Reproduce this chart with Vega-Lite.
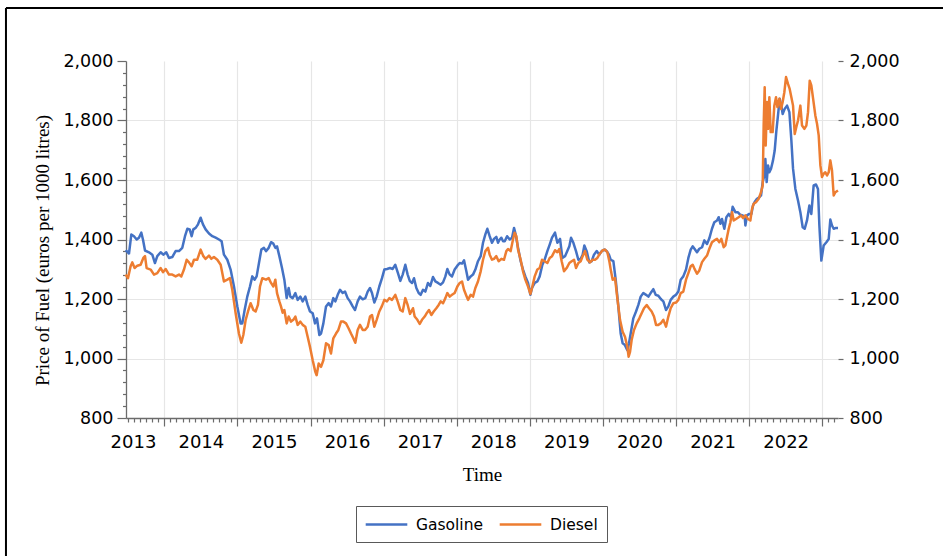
{
"$schema": "https://vega.github.io/schema/vega-lite/v6.json",
"width": 712, "height": 357,
"autosize": {"type": "none"},
"padding": {"left": 126, "top": 61, "right": 105, "bottom": 138},
"background": "white",
"config": {"view": {"stroke": null}, "axis": {"labelColor": "#000000", "titleColor": "#000000", "domainColor": "#6b6b6b", "tickColor": "#6b6b6b", "domainWidth": 1.3, "tickWidth": 1.2}},
"datasets": {
"prices": [
{"year":2013.471,"fuel":"Gasoline","price":1364},{"year":2013.517,"fuel":"Gasoline","price":1353},{"year":2013.549,"fuel":"Gasoline","price":1417},{"year":2013.585,"fuel":"Gasoline","price":1411},{"year":2013.622,"fuel":"Gasoline","price":1400},{"year":2013.653,"fuel":"Gasoline","price":1406},{"year":2013.685,"fuel":"Gasoline","price":1423},{"year":2013.708,"fuel":"Gasoline","price":1400},{"year":2013.736,"fuel":"Gasoline","price":1363},{"year":2013.790,"fuel":"Gasoline","price":1357},{"year":2013.836,"fuel":"Gasoline","price":1349},{"year":2013.872,"fuel":"Gasoline","price":1321},{"year":2013.904,"fuel":"Gasoline","price":1344},{"year":2013.950,"fuel":"Gasoline","price":1357},{"year":2013.986,"fuel":"Gasoline","price":1349},{"year":2014.027,"fuel":"Gasoline","price":1357},{"year":2014.064,"fuel":"Gasoline","price":1338},{"year":2014.109,"fuel":"Gasoline","price":1341},{"year":2014.155,"fuel":"Gasoline","price":1361},{"year":2014.201,"fuel":"Gasoline","price":1361},{"year":2014.246,"fuel":"Gasoline","price":1372},{"year":2014.283,"fuel":"Gasoline","price":1411},{"year":2014.315,"fuel":"Gasoline","price":1436},{"year":2014.347,"fuel":"Gasoline","price":1434},{"year":2014.374,"fuel":"Gasoline","price":1411},{"year":2014.397,"fuel":"Gasoline","price":1434},{"year":2014.429,"fuel":"Gasoline","price":1439},{"year":2014.461,"fuel":"Gasoline","price":1451},{"year":2014.497,"fuel":"Gasoline","price":1473},{"year":2014.529,"fuel":"Gasoline","price":1451},{"year":2014.565,"fuel":"Gasoline","price":1434},{"year":2014.611,"fuel":"Gasoline","price":1420},{"year":2014.657,"fuel":"Gasoline","price":1411},{"year":2014.702,"fuel":"Gasoline","price":1406},{"year":2014.748,"fuel":"Gasoline","price":1400},{"year":2014.784,"fuel":"Gasoline","price":1394},{"year":2014.816,"fuel":"Gasoline","price":1349},{"year":2014.862,"fuel":"Gasoline","price":1332},{"year":2014.907,"fuel":"Gasoline","price":1299},{"year":2014.953,"fuel":"Gasoline","price":1242},{"year":2014.999,"fuel":"Gasoline","price":1175},{"year":2015.044,"fuel":"Gasoline","price":1118},{"year":2015.067,"fuel":"Gasoline","price":1118},{"year":2015.099,"fuel":"Gasoline","price":1163},{"year":2015.135,"fuel":"Gasoline","price":1208},{"year":2015.172,"fuel":"Gasoline","price":1242},{"year":2015.204,"fuel":"Gasoline","price":1276},{"year":2015.236,"fuel":"Gasoline","price":1265},{"year":2015.263,"fuel":"Gasoline","price":1276},{"year":2015.295,"fuel":"Gasoline","price":1321},{"year":2015.327,"fuel":"Gasoline","price":1366},{"year":2015.363,"fuel":"Gasoline","price":1372},
{"year":2015.391,"fuel":"Gasoline","price":1361},{"year":2015.428,"fuel":"Gasoline","price":1372},{"year":2015.460,"fuel":"Gasoline","price":1391},{"year":2015.492,"fuel":"Gasoline","price":1386},{"year":2015.519,"fuel":"Gasoline","price":1372},{"year":2015.542,"fuel":"Gasoline","price":1377},{"year":2015.574,"fuel":"Gasoline","price":1344},{"year":2015.610,"fuel":"Gasoline","price":1304},{"year":2015.642,"fuel":"Gasoline","price":1265},{"year":2015.674,"fuel":"Gasoline","price":1203},{"year":2015.701,"fuel":"Gasoline","price":1237},{"year":2015.724,"fuel":"Gasoline","price":1208},{"year":2015.756,"fuel":"Gasoline","price":1203},{"year":2015.793,"fuel":"Gasoline","price":1220},{"year":2015.824,"fuel":"Gasoline","price":1197},{"year":2015.861,"fuel":"Gasoline","price":1208},{"year":2015.893,"fuel":"Gasoline","price":1192},{"year":2015.929,"fuel":"Gasoline","price":1208},{"year":2015.961,"fuel":"Gasoline","price":1180},{"year":2015.993,"fuel":"Gasoline","price":1158},{"year":2016.030,"fuel":"Gasoline","price":1152},{"year":2016.062,"fuel":"Gasoline","price":1118},{"year":2016.089,"fuel":"Gasoline","price":1135},{"year":2016.121,"fuel":"Gasoline","price":1079},{"year":2016.144,"fuel":"Gasoline","price":1084},{"year":2016.176,"fuel":"Gasoline","price":1118},{"year":2016.212,"fuel":"Gasoline","price":1175},{"year":2016.249,"fuel":"Gasoline","price":1186},{"year":2016.280,"fuel":"Gasoline","price":1175},{"year":2016.312,"fuel":"Gasoline","price":1203},{"year":2016.340,"fuel":"Gasoline","price":1192},{"year":2016.372,"fuel":"Gasoline","price":1214},{"year":2016.404,"fuel":"Gasoline","price":1231},{"year":2016.440,"fuel":"Gasoline","price":1220},{"year":2016.472,"fuel":"Gasoline","price":1225},{"year":2016.508,"fuel":"Gasoline","price":1203},{"year":2016.540,"fuel":"Gasoline","price":1192},{"year":2016.577,"fuel":"Gasoline","price":1175},{"year":2016.609,"fuel":"Gasoline","price":1163},{"year":2016.645,"fuel":"Gasoline","price":1192},{"year":2016.677,"fuel":"Gasoline","price":1208},{"year":2016.714,"fuel":"Gasoline","price":1199},{"year":2016.750,"fuel":"Gasoline","price":1203},{"year":2016.782,"fuel":"Gasoline","price":1225},{"year":2016.814,"fuel":"Gasoline","price":1237},{"year":2016.841,"fuel":"Gasoline","price":1220},{"year":2016.873,"fuel":"Gasoline","price":1188},{"year":2016.905,"fuel":"Gasoline","price":1208},{"year":2016.941,"fuel":"Gasoline","price":1242},{"year":2016.978,"fuel":"Gasoline","price":1270},{"year":2017.010,"fuel":"Gasoline","price":1299},{"year":2017.046,"fuel":"Gasoline","price":1301},{"year":2017.087,"fuel":"Gasoline","price":1304},{"year":2017.124,"fuel":"Gasoline","price":1301},{"year":2017.160,"fuel":"Gasoline","price":1315},{"year":2017.192,"fuel":"Gasoline","price":1290},{"year":2017.229,"fuel":"Gasoline","price":1261},{"year":2017.261,"fuel":"Gasoline","price":1282},{"year":2017.297,"fuel":"Gasoline","price":1315},{"year":2017.329,"fuel":"Gasoline","price":1282},{"year":2017.359,"fuel":"Gasoline","price":1260},
{"year":2017.389,"fuel":"Gasoline","price":1254},{"year":2017.416,"fuel":"Gasoline","price":1270},{"year":2017.448,"fuel":"Gasoline","price":1237},{"year":2017.480,"fuel":"Gasoline","price":1220},{"year":2017.507,"fuel":"Gasoline","price":1214},{"year":2017.539,"fuel":"Gasoline","price":1231},{"year":2017.571,"fuel":"Gasoline","price":1225},{"year":2017.607,"fuel":"Gasoline","price":1254},{"year":2017.639,"fuel":"Gasoline","price":1244},{"year":2017.676,"fuel":"Gasoline","price":1274},{"year":2017.708,"fuel":"Gasoline","price":1259},{"year":2017.744,"fuel":"Gasoline","price":1254},{"year":2017.781,"fuel":"Gasoline","price":1248},{"year":2017.813,"fuel":"Gasoline","price":1256},{"year":2017.845,"fuel":"Gasoline","price":1276},{"year":2017.872,"fuel":"Gasoline","price":1301},{"year":2017.904,"fuel":"Gasoline","price":1282},{"year":2017.936,"fuel":"Gasoline","price":1276},{"year":2017.972,"fuel":"Gasoline","price":1299},{"year":2018.009,"fuel":"Gasoline","price":1312},{"year":2018.041,"fuel":"Gasoline","price":1321},{"year":2018.073,"fuel":"Gasoline","price":1319},{"year":2018.100,"fuel":"Gasoline","price":1330},{"year":2018.132,"fuel":"Gasoline","price":1293},{"year":2018.155,"fuel":"Gasoline","price":1265},{"year":2018.191,"fuel":"Gasoline","price":1276},{"year":2018.223,"fuel":"Gasoline","price":1282},{"year":2018.255,"fuel":"Gasoline","price":1299},{"year":2018.291,"fuel":"Gasoline","price":1327},{"year":2018.328,"fuel":"Gasoline","price":1344},{"year":2018.360,"fuel":"Gasoline","price":1389},{"year":2018.392,"fuel":"Gasoline","price":1417},{"year":2018.419,"fuel":"Gasoline","price":1436},{"year":2018.451,"fuel":"Gasoline","price":1411},{"year":2018.483,"fuel":"Gasoline","price":1389},{"year":2018.510,"fuel":"Gasoline","price":1402},{"year":2018.542,"fuel":"Gasoline","price":1409},{"year":2018.565,"fuel":"Gasoline","price":1389},{"year":2018.588,"fuel":"Gasoline","price":1400},{"year":2018.611,"fuel":"Gasoline","price":1406},{"year":2018.634,"fuel":"Gasoline","price":1394},{"year":2018.657,"fuel":"Gasoline","price":1394},{"year":2018.689,"fuel":"Gasoline","price":1411},{"year":2018.725,"fuel":"Gasoline","price":1400},{"year":2018.757,"fuel":"Gasoline","price":1406},{"year":2018.784,"fuel":"Gasoline","price":1439},{"year":2018.807,"fuel":"Gasoline","price":1417},{"year":2018.839,"fuel":"Gasoline","price":1372},{"year":2018.875,"fuel":"Gasoline","price":1327},{"year":2018.907,"fuel":"Gasoline","price":1299},{"year":2018.939,"fuel":"Gasoline","price":1276},{"year":2018.976,"fuel":"Gasoline","price":1254},{"year":2019.008,"fuel":"Gasoline","price":1214},{"year":2019.030,"fuel":"Gasoline","price":1237},{"year":2019.067,"fuel":"Gasoline","price":1254},{"year":2019.103,"fuel":"Gasoline","price":1259},{"year":2019.135,"fuel":"Gasoline","price":1276},{"year":2019.172,"fuel":"Gasoline","price":1315},{"year":2019.203,"fuel":"Gasoline","price":1332},{"year":2019.240,"fuel":"Gasoline","price":1361},{"year":2019.272,"fuel":"Gasoline","price":1383},{"year":2019.304,"fuel":"Gasoline","price":1406},
{"year":2019.345,"fuel":"Gasoline","price":1423},{"year":2019.377,"fuel":"Gasoline","price":1389},{"year":2019.414,"fuel":"Gasoline","price":1402},{"year":2019.445,"fuel":"Gasoline","price":1338},{"year":2019.482,"fuel":"Gasoline","price":1344},{"year":2019.513,"fuel":"Gasoline","price":1361},{"year":2019.541,"fuel":"Gasoline","price":1377},{"year":2019.564,"fuel":"Gasoline","price":1406},{"year":2019.596,"fuel":"Gasoline","price":1389},{"year":2019.632,"fuel":"Gasoline","price":1361},{"year":2019.664,"fuel":"Gasoline","price":1332},{"year":2019.696,"fuel":"Gasoline","price":1335},{"year":2019.723,"fuel":"Gasoline","price":1349},{"year":2019.746,"fuel":"Gasoline","price":1380},{"year":2019.778,"fuel":"Gasoline","price":1361},{"year":2019.814,"fuel":"Gasoline","price":1323},{"year":2019.846,"fuel":"Gasoline","price":1327},{"year":2019.878,"fuel":"Gasoline","price":1349},{"year":2019.915,"fuel":"Gasoline","price":1361},{"year":2019.951,"fuel":"Gasoline","price":1349},{"year":2019.983,"fuel":"Gasoline","price":1361},{"year":2020.020,"fuel":"Gasoline","price":1366},{"year":2020.052,"fuel":"Gasoline","price":1361},{"year":2020.083,"fuel":"Gasoline","price":1349},{"year":2020.106,"fuel":"Gasoline","price":1332},{"year":2020.143,"fuel":"Gasoline","price":1327},{"year":2020.175,"fuel":"Gasoline","price":1265},{"year":2020.211,"fuel":"Gasoline","price":1175},{"year":2020.243,"fuel":"Gasoline","price":1084},{"year":2020.270,"fuel":"Gasoline","price":1051},{"year":2020.302,"fuel":"Gasoline","price":1045},{"year":2020.334,"fuel":"Gasoline","price":1028},{"year":2020.357,"fuel":"Gasoline","price":1051},{"year":2020.384,"fuel":"Gasoline","price":1090},{"year":2020.416,"fuel":"Gasoline","price":1135},{"year":2020.453,"fuel":"Gasoline","price":1158},{"year":2020.485,"fuel":"Gasoline","price":1180},{"year":2020.517,"fuel":"Gasoline","price":1208},{"year":2020.553,"fuel":"Gasoline","price":1220},{"year":2020.590,"fuel":"Gasoline","price":1214},{"year":2020.622,"fuel":"Gasoline","price":1208},{"year":2020.653,"fuel":"Gasoline","price":1220},{"year":2020.690,"fuel":"Gasoline","price":1233},{"year":2020.722,"fuel":"Gasoline","price":1214},{"year":2020.758,"fuel":"Gasoline","price":1211},{"year":2020.795,"fuel":"Gasoline","price":1199},{"year":2020.827,"fuel":"Gasoline","price":1192},{"year":2020.863,"fuel":"Gasoline","price":1163},{"year":2020.895,"fuel":"Gasoline","price":1175},{"year":2020.927,"fuel":"Gasoline","price":1197},{"year":2020.964,"fuel":"Gasoline","price":1208},{"year":2021.000,"fuel":"Gasoline","price":1214},{"year":2021.032,"fuel":"Gasoline","price":1225},{"year":2021.064,"fuel":"Gasoline","price":1265},{"year":2021.100,"fuel":"Gasoline","price":1276},{"year":2021.137,"fuel":"Gasoline","price":1299},{"year":2021.169,"fuel":"Gasoline","price":1338},{"year":2021.201,"fuel":"Gasoline","price":1366},{"year":2021.228,"fuel":"Gasoline","price":1377},{"year":2021.250,"fuel":"Gasoline","price":1370},
{"year":2021.287,"fuel":"Gasoline","price":1357},{"year":2021.319,"fuel":"Gasoline","price":1369},{"year":2021.356,"fuel":"Gasoline","price":1374},{"year":2021.388,"fuel":"Gasoline","price":1397},{"year":2021.424,"fuel":"Gasoline","price":1385},{"year":2021.456,"fuel":"Gasoline","price":1404},{"year":2021.492,"fuel":"Gasoline","price":1436},{"year":2021.524,"fuel":"Gasoline","price":1458},{"year":2021.561,"fuel":"Gasoline","price":1464},{"year":2021.584,"fuel":"Gasoline","price":1475},{"year":2021.607,"fuel":"Gasoline","price":1453},{"year":2021.629,"fuel":"Gasoline","price":1469},{"year":2021.661,"fuel":"Gasoline","price":1436},{"year":2021.689,"fuel":"Gasoline","price":1475},{"year":2021.721,"fuel":"Gasoline","price":1486},{"year":2021.753,"fuel":"Gasoline","price":1475},{"year":2021.775,"fuel":"Gasoline","price":1510},{"year":2021.812,"fuel":"Gasoline","price":1492},{"year":2021.844,"fuel":"Gasoline","price":1492},{"year":2021.880,"fuel":"Gasoline","price":1483},{"year":2021.912,"fuel":"Gasoline","price":1481},{"year":2021.940,"fuel":"Gasoline","price":1475},{"year":2021.949,"fuel":"Gasoline","price":1447},{"year":2021.971,"fuel":"Gasoline","price":1481},{"year":2022.003,"fuel":"Gasoline","price":1486},{"year":2022.031,"fuel":"Gasoline","price":1486},{"year":2022.053,"fuel":"Gasoline","price":1514},{"year":2022.076,"fuel":"Gasoline","price":1526},{"year":2022.108,"fuel":"Gasoline","price":1537},{"year":2022.140,"fuel":"Gasoline","price":1542},{"year":2022.163,"fuel":"Gasoline","price":1548},{"year":2022.186,"fuel":"Gasoline","price":1593},{"year":2022.208,"fuel":"Gasoline","price":1615},{"year":2022.222,"fuel":"Gasoline","price":1671},{"year":2022.240,"fuel":"Gasoline","price":1593},{"year":2022.259,"fuel":"Gasoline","price":1649},{"year":2022.277,"fuel":"Gasoline","price":1626},{"year":2022.300,"fuel":"Gasoline","price":1638},{"year":2022.327,"fuel":"Gasoline","price":1666},{"year":2022.350,"fuel":"Gasoline","price":1699},{"year":2022.373,"fuel":"Gasoline","price":1766},{"year":2022.395,"fuel":"Gasoline","price":1817},{"year":2022.418,"fuel":"Gasoline","price":1873},{"year":2022.441,"fuel":"Gasoline","price":1850},{"year":2022.459,"fuel":"Gasoline","price":1822},{"year":2022.487,"fuel":"Gasoline","price":1839},{"year":2022.519,"fuel":"Gasoline","price":1850},{"year":2022.551,"fuel":"Gasoline","price":1828},{"year":2022.578,"fuel":"Gasoline","price":1733},{"year":2022.601,"fuel":"Gasoline","price":1638},{"year":2022.633,"fuel":"Gasoline","price":1570},{"year":2022.669,"fuel":"Gasoline","price":1531},{"year":2022.701,"fuel":"Gasoline","price":1492},{"year":2022.733,"fuel":"Gasoline","price":1441},{"year":2022.760,"fuel":"Gasoline","price":1436},{"year":2022.792,"fuel":"Gasoline","price":1464},{"year":2022.824,"fuel":"Gasoline","price":1514},{"year":2022.851,"fuel":"Gasoline","price":1486},{"year":2022.883,"fuel":"Gasoline","price":1582},{"year":2022.915,"fuel":"Gasoline","price":1585},{"year":2022.942,"fuel":"Gasoline","price":1570},{"year":2022.961,"fuel":"Gasoline","price":1447},{"year":2022.988,"fuel":"Gasoline","price":1329},{"year":2023.020,"fuel":"Gasoline","price":1380},{"year":2023.057,"fuel":"Gasoline","price":1391},{"year":2023.089,"fuel":"Gasoline","price":1402},{"year":2023.111,"fuel":"Gasoline","price":1467},{"year":2023.134,"fuel":"Gasoline","price":1447},{"year":2023.157,"fuel":"Gasoline","price":1436},{"year":2023.189,"fuel":"Gasoline","price":1439},{"year":2023.216,"fuel":"Gasoline","price":1439},
{"year":2013.471,"fuel":"Diesel","price":1282},{"year":2013.503,"fuel":"Diesel","price":1270},{"year":2013.539,"fuel":"Diesel","price":1310},{"year":2013.562,"fuel":"Diesel","price":1323},{"year":2013.594,"fuel":"Diesel","price":1304},{"year":2013.631,"fuel":"Diesel","price":1312},{"year":2013.676,"fuel":"Diesel","price":1315},{"year":2013.713,"fuel":"Diesel","price":1338},{"year":2013.736,"fuel":"Diesel","price":1344},{"year":2013.758,"fuel":"Diesel","price":1304},{"year":2013.813,"fuel":"Diesel","price":1299},{"year":2013.859,"fuel":"Diesel","price":1282},{"year":2013.904,"fuel":"Diesel","price":1287},{"year":2013.950,"fuel":"Diesel","price":1304},{"year":2013.982,"fuel":"Diesel","price":1290},{"year":2014.018,"fuel":"Diesel","price":1301},{"year":2014.064,"fuel":"Diesel","price":1282},{"year":2014.109,"fuel":"Diesel","price":1282},{"year":2014.155,"fuel":"Diesel","price":1276},{"year":2014.201,"fuel":"Diesel","price":1282},{"year":2014.233,"fuel":"Diesel","price":1276},{"year":2014.269,"fuel":"Diesel","price":1299},{"year":2014.306,"fuel":"Diesel","price":1332},{"year":2014.337,"fuel":"Diesel","price":1323},{"year":2014.374,"fuel":"Diesel","price":1310},{"year":2014.406,"fuel":"Diesel","price":1332},{"year":2014.451,"fuel":"Diesel","price":1332},{"year":2014.497,"fuel":"Diesel","price":1366},{"year":2014.534,"fuel":"Diesel","price":1344},{"year":2014.565,"fuel":"Diesel","price":1335},{"year":2014.611,"fuel":"Diesel","price":1346},{"year":2014.643,"fuel":"Diesel","price":1335},{"year":2014.679,"fuel":"Diesel","price":1341},{"year":2014.725,"fuel":"Diesel","price":1332},{"year":2014.771,"fuel":"Diesel","price":1315},{"year":2014.816,"fuel":"Diesel","price":1259},{"year":2014.862,"fuel":"Diesel","price":1265},{"year":2014.898,"fuel":"Diesel","price":1270},{"year":2014.930,"fuel":"Diesel","price":1231},{"year":2014.976,"fuel":"Diesel","price":1152},{"year":2015.021,"fuel":"Diesel","price":1084},{"year":2015.053,"fuel":"Diesel","price":1053},{"year":2015.081,"fuel":"Diesel","price":1079},{"year":2015.113,"fuel":"Diesel","price":1130},{"year":2015.145,"fuel":"Diesel","price":1158},{"year":2015.181,"fuel":"Diesel","price":1186},{"year":2015.218,"fuel":"Diesel","price":1163},{"year":2015.249,"fuel":"Diesel","price":1158},{"year":2015.281,"fuel":"Diesel","price":1180},{"year":2015.309,"fuel":"Diesel","price":1242},{"year":2015.341,"fuel":"Diesel","price":1270},
{"year":2015.391,"fuel":"Diesel","price":1265},{"year":2015.428,"fuel":"Diesel","price":1270},{"year":2015.460,"fuel":"Diesel","price":1254},{"year":2015.492,"fuel":"Diesel","price":1242},{"year":2015.519,"fuel":"Diesel","price":1265},{"year":2015.542,"fuel":"Diesel","price":1220},{"year":2015.574,"fuel":"Diesel","price":1192},{"year":2015.596,"fuel":"Diesel","price":1175},{"year":2015.619,"fuel":"Diesel","price":1154},{"year":2015.642,"fuel":"Diesel","price":1163},{"year":2015.674,"fuel":"Diesel","price":1118},{"year":2015.701,"fuel":"Diesel","price":1141},{"year":2015.733,"fuel":"Diesel","price":1124},{"year":2015.765,"fuel":"Diesel","price":1130},{"year":2015.793,"fuel":"Diesel","price":1141},{"year":2015.824,"fuel":"Diesel","price":1113},{"year":2015.861,"fuel":"Diesel","price":1124},{"year":2015.893,"fuel":"Diesel","price":1113},{"year":2015.929,"fuel":"Diesel","price":1107},{"year":2015.961,"fuel":"Diesel","price":1073},{"year":2015.993,"fuel":"Diesel","price":1039},{"year":2016.030,"fuel":"Diesel","price":994},{"year":2016.066,"fuel":"Diesel","price":955},{"year":2016.084,"fuel":"Diesel","price":944},{"year":2016.112,"fuel":"Diesel","price":983},{"year":2016.144,"fuel":"Diesel","price":972},{"year":2016.176,"fuel":"Diesel","price":994},{"year":2016.212,"fuel":"Diesel","price":1051},{"year":2016.249,"fuel":"Diesel","price":1045},{"year":2016.280,"fuel":"Diesel","price":1017},{"year":2016.312,"fuel":"Diesel","price":1068},{"year":2016.349,"fuel":"Diesel","price":1084},{"year":2016.381,"fuel":"Diesel","price":1096},{"year":2016.417,"fuel":"Diesel","price":1124},{"year":2016.449,"fuel":"Diesel","price":1124},{"year":2016.486,"fuel":"Diesel","price":1118},{"year":2016.522,"fuel":"Diesel","price":1101},{"year":2016.554,"fuel":"Diesel","price":1084},{"year":2016.586,"fuel":"Diesel","price":1068},{"year":2016.613,"fuel":"Diesel","price":1053},{"year":2016.645,"fuel":"Diesel","price":1096},{"year":2016.677,"fuel":"Diesel","price":1113},{"year":2016.714,"fuel":"Diesel","price":1096},{"year":2016.746,"fuel":"Diesel","price":1096},{"year":2016.782,"fuel":"Diesel","price":1107},{"year":2016.814,"fuel":"Diesel","price":1141},{"year":2016.841,"fuel":"Diesel","price":1146},{"year":2016.873,"fuel":"Diesel","price":1107},{"year":2016.905,"fuel":"Diesel","price":1130},{"year":2016.941,"fuel":"Diesel","price":1158},{"year":2016.978,"fuel":"Diesel","price":1177},{"year":2017.010,"fuel":"Diesel","price":1197},{"year":2017.046,"fuel":"Diesel","price":1192},{"year":2017.078,"fuel":"Diesel","price":1203},{"year":2017.115,"fuel":"Diesel","price":1197},{"year":2017.160,"fuel":"Diesel","price":1214},{"year":2017.192,"fuel":"Diesel","price":1192},{"year":2017.229,"fuel":"Diesel","price":1163},{"year":2017.261,"fuel":"Diesel","price":1158},{"year":2017.297,"fuel":"Diesel","price":1203},{"year":2017.329,"fuel":"Diesel","price":1180},{"year":2017.361,"fuel":"Diesel","price":1150},
{"year":2017.402,"fuel":"Diesel","price":1169},{"year":2017.425,"fuel":"Diesel","price":1141},{"year":2017.462,"fuel":"Diesel","price":1130},{"year":2017.494,"fuel":"Diesel","price":1116},{"year":2017.525,"fuel":"Diesel","price":1130},{"year":2017.562,"fuel":"Diesel","price":1141},{"year":2017.594,"fuel":"Diesel","price":1154},{"year":2017.621,"fuel":"Diesel","price":1163},{"year":2017.653,"fuel":"Diesel","price":1146},{"year":2017.685,"fuel":"Diesel","price":1158},{"year":2017.721,"fuel":"Diesel","price":1169},{"year":2017.753,"fuel":"Diesel","price":1180},{"year":2017.781,"fuel":"Diesel","price":1192},{"year":2017.813,"fuel":"Diesel","price":1186},{"year":2017.845,"fuel":"Diesel","price":1203},{"year":2017.872,"fuel":"Diesel","price":1220},{"year":2017.904,"fuel":"Diesel","price":1208},{"year":2017.936,"fuel":"Diesel","price":1214},{"year":2017.972,"fuel":"Diesel","price":1220},{"year":2018.009,"fuel":"Diesel","price":1242},{"year":2018.041,"fuel":"Diesel","price":1254},{"year":2018.073,"fuel":"Diesel","price":1259},{"year":2018.100,"fuel":"Diesel","price":1231},{"year":2018.132,"fuel":"Diesel","price":1211},{"year":2018.155,"fuel":"Diesel","price":1197},{"year":2018.191,"fuel":"Diesel","price":1214},{"year":2018.223,"fuel":"Diesel","price":1208},{"year":2018.255,"fuel":"Diesel","price":1237},{"year":2018.291,"fuel":"Diesel","price":1259},{"year":2018.328,"fuel":"Diesel","price":1293},{"year":2018.360,"fuel":"Diesel","price":1332},{"year":2018.392,"fuel":"Diesel","price":1361},{"year":2018.428,"fuel":"Diesel","price":1372},{"year":2018.451,"fuel":"Diesel","price":1349},{"year":2018.483,"fuel":"Diesel","price":1332},{"year":2018.510,"fuel":"Diesel","price":1335},{"year":2018.542,"fuel":"Diesel","price":1344},{"year":2018.574,"fuel":"Diesel","price":1327},{"year":2018.611,"fuel":"Diesel","price":1335},{"year":2018.647,"fuel":"Diesel","price":1332},{"year":2018.679,"fuel":"Diesel","price":1361},{"year":2018.702,"fuel":"Diesel","price":1368},{"year":2018.738,"fuel":"Diesel","price":1361},{"year":2018.770,"fuel":"Diesel","price":1400},{"year":2018.793,"fuel":"Diesel","price":1423},{"year":2018.816,"fuel":"Diesel","price":1411},{"year":2018.839,"fuel":"Diesel","price":1366},{"year":2018.875,"fuel":"Diesel","price":1332},{"year":2018.907,"fuel":"Diesel","price":1293},{"year":2018.939,"fuel":"Diesel","price":1265},{"year":2018.976,"fuel":"Diesel","price":1242},{"year":2019.008,"fuel":"Diesel","price":1217},{"year":2019.030,"fuel":"Diesel","price":1237},{"year":2019.067,"fuel":"Diesel","price":1276},{"year":2019.103,"fuel":"Diesel","price":1299},{"year":2019.135,"fuel":"Diesel","price":1304},{"year":2019.167,"fuel":"Diesel","price":1332},{"year":2019.203,"fuel":"Diesel","price":1327},{"year":2019.240,"fuel":"Diesel","price":1321},{"year":2019.272,"fuel":"Diesel","price":1338},{"year":2019.304,"fuel":"Diesel","price":1344},
{"year":2019.345,"fuel":"Diesel","price":1364},{"year":2019.377,"fuel":"Diesel","price":1357},{"year":2019.404,"fuel":"Diesel","price":1368},{"year":2019.436,"fuel":"Diesel","price":1327},{"year":2019.468,"fuel":"Diesel","price":1293},{"year":2019.504,"fuel":"Diesel","price":1304},{"year":2019.541,"fuel":"Diesel","price":1321},{"year":2019.573,"fuel":"Diesel","price":1327},{"year":2019.605,"fuel":"Diesel","price":1332},{"year":2019.632,"fuel":"Diesel","price":1304},{"year":2019.664,"fuel":"Diesel","price":1321},{"year":2019.696,"fuel":"Diesel","price":1327},{"year":2019.723,"fuel":"Diesel","price":1344},{"year":2019.755,"fuel":"Diesel","price":1361},{"year":2019.787,"fuel":"Diesel","price":1332},{"year":2019.824,"fuel":"Diesel","price":1323},{"year":2019.860,"fuel":"Diesel","price":1332},{"year":2019.892,"fuel":"Diesel","price":1332},{"year":2019.924,"fuel":"Diesel","price":1338},{"year":2019.960,"fuel":"Diesel","price":1353},{"year":2019.997,"fuel":"Diesel","price":1364},{"year":2020.029,"fuel":"Diesel","price":1366},{"year":2020.061,"fuel":"Diesel","price":1357},{"year":2020.088,"fuel":"Diesel","price":1327},{"year":2020.111,"fuel":"Diesel","price":1293},{"year":2020.134,"fuel":"Diesel","price":1265},{"year":2020.166,"fuel":"Diesel","price":1270},{"year":2020.197,"fuel":"Diesel","price":1203},{"year":2020.234,"fuel":"Diesel","price":1130},{"year":2020.270,"fuel":"Diesel","price":1090},{"year":2020.302,"fuel":"Diesel","price":1073},{"year":2020.334,"fuel":"Diesel","price":1039},{"year":2020.352,"fuel":"Diesel","price":1006},{"year":2020.371,"fuel":"Diesel","price":1022},{"year":2020.393,"fuel":"Diesel","price":1062},{"year":2020.425,"fuel":"Diesel","price":1096},{"year":2020.462,"fuel":"Diesel","price":1118},{"year":2020.498,"fuel":"Diesel","price":1135},{"year":2020.530,"fuel":"Diesel","price":1152},{"year":2020.562,"fuel":"Diesel","price":1169},{"year":2020.599,"fuel":"Diesel","price":1180},{"year":2020.631,"fuel":"Diesel","price":1169},{"year":2020.667,"fuel":"Diesel","price":1158},{"year":2020.699,"fuel":"Diesel","price":1141},{"year":2020.727,"fuel":"Diesel","price":1113},{"year":2020.758,"fuel":"Diesel","price":1113},{"year":2020.790,"fuel":"Diesel","price":1118},{"year":2020.827,"fuel":"Diesel","price":1130},{"year":2020.863,"fuel":"Diesel","price":1107},{"year":2020.895,"fuel":"Diesel","price":1141},{"year":2020.927,"fuel":"Diesel","price":1169},{"year":2020.964,"fuel":"Diesel","price":1186},{"year":2021.000,"fuel":"Diesel","price":1188},{"year":2021.032,"fuel":"Diesel","price":1197},{"year":2021.064,"fuel":"Diesel","price":1220},{"year":2021.100,"fuel":"Diesel","price":1225},{"year":2021.137,"fuel":"Diesel","price":1265},{"year":2021.169,"fuel":"Diesel","price":1287},{"year":2021.201,"fuel":"Diesel","price":1310},{"year":2021.228,"fuel":"Diesel","price":1315},{"year":2021.250,"fuel":"Diesel","price":1303},
{"year":2021.287,"fuel":"Diesel","price":1285},{"year":2021.319,"fuel":"Diesel","price":1296},{"year":2021.356,"fuel":"Diesel","price":1324},{"year":2021.388,"fuel":"Diesel","price":1335},{"year":2021.424,"fuel":"Diesel","price":1346},{"year":2021.456,"fuel":"Diesel","price":1369},{"year":2021.492,"fuel":"Diesel","price":1391},{"year":2021.524,"fuel":"Diesel","price":1397},{"year":2021.561,"fuel":"Diesel","price":1402},{"year":2021.593,"fuel":"Diesel","price":1391},{"year":2021.620,"fuel":"Diesel","price":1402},{"year":2021.652,"fuel":"Diesel","price":1374},{"year":2021.675,"fuel":"Diesel","price":1380},{"year":2021.698,"fuel":"Diesel","price":1408},{"year":2021.721,"fuel":"Diesel","price":1436},{"year":2021.744,"fuel":"Diesel","price":1458},{"year":2021.767,"fuel":"Diesel","price":1492},{"year":2021.789,"fuel":"Diesel","price":1464},{"year":2021.821,"fuel":"Diesel","price":1469},{"year":2021.857,"fuel":"Diesel","price":1475},{"year":2021.889,"fuel":"Diesel","price":1481},{"year":2021.917,"fuel":"Diesel","price":1472},{"year":2021.949,"fuel":"Diesel","price":1481},{"year":2021.985,"fuel":"Diesel","price":1469},{"year":2022.017,"fuel":"Diesel","price":1464},{"year":2022.040,"fuel":"Diesel","price":1503},{"year":2022.062,"fuel":"Diesel","price":1520},{"year":2022.094,"fuel":"Diesel","price":1525},{"year":2022.131,"fuel":"Diesel","price":1537},{"year":2022.163,"fuel":"Diesel","price":1559},{"year":2022.186,"fuel":"Diesel","price":1582},{"year":2022.199,"fuel":"Diesel","price":1783},{"year":2022.213,"fuel":"Diesel","price":1912},{"year":2022.227,"fuel":"Diesel","price":1716},{"year":2022.245,"fuel":"Diesel","price":1862},{"year":2022.259,"fuel":"Diesel","price":1772},{"year":2022.277,"fuel":"Diesel","price":1878},{"year":2022.295,"fuel":"Diesel","price":1761},{"year":2022.322,"fuel":"Diesel","price":1761},{"year":2022.345,"fuel":"Diesel","price":1850},{"year":2022.368,"fuel":"Diesel","price":1878},{"year":2022.387,"fuel":"Diesel","price":1845},{"year":2022.414,"fuel":"Diesel","price":1873},{"year":2022.437,"fuel":"Diesel","price":1839},{"year":2022.459,"fuel":"Diesel","price":1862},{"year":2022.482,"fuel":"Diesel","price":1895},{"year":2022.505,"fuel":"Diesel","price":1946},{"year":2022.532,"fuel":"Diesel","price":1923},{"year":2022.555,"fuel":"Diesel","price":1906},{"year":2022.578,"fuel":"Diesel","price":1878},{"year":2022.601,"fuel":"Diesel","price":1850},{"year":2022.624,"fuel":"Diesel","price":1755},{"year":2022.646,"fuel":"Diesel","price":1778},{"year":2022.669,"fuel":"Diesel","price":1800},{"year":2022.701,"fuel":"Diesel","price":1850},{"year":2022.724,"fuel":"Diesel","price":1783},{"year":2022.756,"fuel":"Diesel","price":1772},{"year":2022.783,"fuel":"Diesel","price":1783},{"year":2022.806,"fuel":"Diesel","price":1828},{"year":2022.829,"fuel":"Diesel","price":1934},{"year":2022.851,"fuel":"Diesel","price":1918},{"year":2022.879,"fuel":"Diesel","price":1867},{"year":2022.906,"fuel":"Diesel","price":1817},{"year":2022.929,"fuel":"Diesel","price":1789},{"year":2022.952,"fuel":"Diesel","price":1750},{"year":2022.975,"fuel":"Diesel","price":1649},{"year":2022.997,"fuel":"Diesel","price":1610},{"year":2023.020,"fuel":"Diesel","price":1621},{"year":2023.043,"fuel":"Diesel","price":1626},{"year":2023.066,"fuel":"Diesel","price":1615},{"year":2023.089,"fuel":"Diesel","price":1626},{"year":2023.111,"fuel":"Diesel","price":1666},{"year":2023.134,"fuel":"Diesel","price":1632},{"year":2023.157,"fuel":"Diesel","price":1548},{"year":2023.180,"fuel":"Diesel","price":1559},{"year":2023.216,"fuel":"Diesel","price":1565}
]
},
"layer": [
{
 "data": {"name": "prices"},
 "mark": {"type": "line", "strokeWidth": 2.5, "strokeJoin": "round"},
 "encoding": {
  "x": {"field": "year", "type": "quantitative",
   "scale": {"domain": [2013.476, 2023.216], "nice": false, "zero": false},
   "axis": {"orient": "bottom", "values": {"expr": "sequence(2013.5, 2023.2, 1/12)"}, "labels": false,
    "tickSize": {"condition": {"test": "abs(datum.value - round(datum.value)) < 0.01", "value": 8}, "value": 4},
    "grid": true, "gridColor": "#e6e6e6", "gridWidth": 1.2,
    "gridOpacity": {"condition": {"test": "abs(datum.value - round(datum.value)) < 0.01", "value": 1}, "value": 0},
    "title": "Time", "titleFont": "Liberation Serif", "titleFontSize": 19, "titleFontWeight": "normal",
    "titleX": 356, "titleY": 62, "titleBaseline": "alphabetic", "titleAlign": "center"}},
  "y": {"field": "price", "type": "quantitative",
   "scale": {"domain": [800, 2000], "nice": false, "zero": false},
   "axis": {"orient": "left", "values": {"expr": "sequence(800, 2001, 40)"},
    "labelExpr": "datum.value % 200 === 0 ? format(datum.value, ',') : ''",
    "labelOverlap": false, "labelFont": "DejaVu Sans", "labelFontSize": 17.5, "labelPadding": 4,
    "tickSize": {"condition": {"test": "datum.value % 200 === 0", "value": 9}, "value": 3.5},
    "grid": true, "gridColor": "#e6e6e6", "gridWidth": 1.2,
    "gridOpacity": {"condition": {"test": "datum.value % 200 === 0 && datum.value > 800 && datum.value < 2000", "value": 1}, "value": 0},
    "title": "Price of Fuel (euros per 1000 litres)", "titleFont": "Liberation Serif", "titleFontSize": 19, "titleFontWeight": "normal",
    "titleAngle": 270, "titleX": -84, "titleY": 189, "titleAlign": "center", "titleBaseline": "middle"}},
  "color": {"field": "fuel", "type": "nominal",
   "scale": {"domain": ["Gasoline", "Diesel"], "range": ["#4472C4", "#ED7D31"]},
   "legend": {"orient": "none", "legendX": 230, "legendY": 445, "direction": "horizontal", "title": null,
    "symbolType": "M-2.6,0L2.6,0", "symbolSize": 256, "symbolStrokeWidth": 2.5, "symbolOffset": 12,
    "labelFont": "DejaVu Sans", "labelFontSize": 15.5, "labelColor": "#000000", "labelOffset": 20,
    "columnPadding": 10, "padding": 9, "strokeColor": "#595959", "fillColor": "#ffffff"}}
 }
},
{
 "data": {"name": "prices"},
 "mark": {"type": "line", "opacity": 0},
 "encoding": {
  "detail": {"field": "fuel"},
  "x": {"field": "year", "type": "quantitative",
   "scale": {"domain": [2013.476, 2023.216], "nice": false, "zero": false},
   "axis": {"orient": "bottom", "values": [2013.572, 2014.5, 2015.5, 2016.5, 2017.5, 2018.5, 2019.5, 2020.5, 2021.5, 2022.5],
    "labelExpr": "'' + floor(datum.value)", "ticks": false, "domain": false, "grid": false,
    "labelFont": "DejaVu Sans", "labelFontSize": 18, "labelBaseline": "middle", "labelPadding": 24, "labelOverlap": false, "title": null}},
  "y": {"field": "price", "type": "quantitative",
   "scale": {"domain": [800, 2000], "nice": false, "zero": false},
   "axis": {"orient": "right", "values": [800, 1000, 1200, 1400, 1600, 1800, 2000],
    "labelExpr": "format(datum.value, ',')",
    "domain": false, "grid": false, "tickSize": 5, "labelPadding": 6,
    "labelFont": "DejaVu Sans", "labelFontSize": 17.5, "labelOverlap": false, "title": null}}
 }
},
{
 "data": {"values": [{}]},
 "mark": {"type": "rule", "color": "#000000", "strokeWidth": 2},
 "encoding": {
  "x": {"datum": 2011.834, "type": "quantitative", "scale": {"domain": [2013.476, 2023.216], "nice": false, "zero": false}, "axis": null},
  "x2": {"datum": 2024.8},
  "y": {"datum": 2178, "type": "quantitative", "scale": {"domain": [800, 2000], "nice": false, "zero": false}, "axis": null}
 }
},
{
 "data": {"values": [{}]},
 "mark": {"type": "rule", "color": "#000000", "strokeWidth": 2},
 "encoding": {
  "x": {"datum": 2011.834, "type": "quantitative", "scale": {"domain": [2013.476, 2023.216], "nice": false, "zero": false}, "axis": null},
  "y": {"datum": 2178, "type": "quantitative", "scale": {"domain": [800, 2000], "nice": false, "zero": false}, "axis": null},
  "y2": {"datum": 300}
 }
}
],
"resolve": {"axis": {"x": "independent", "y": "independent"}}
}
